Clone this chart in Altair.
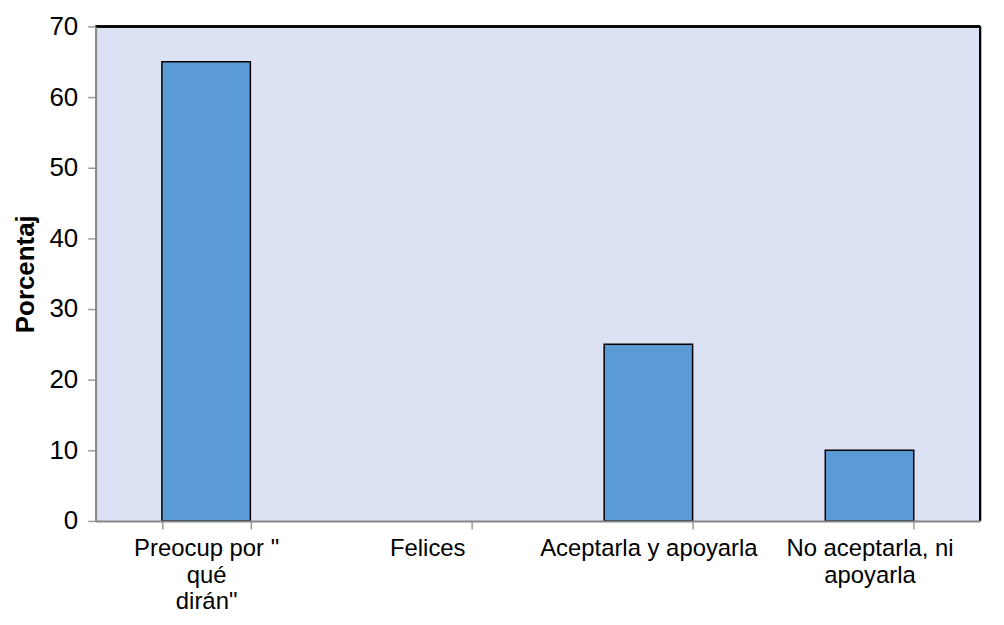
import altair as alt
import pandas as pd
import json

categories = ["Preocup por \" qué dirán\"", "Felices", "Aceptarla y apoyarla", "No aceptarla, ni apoyarla"]
values = [65, 0, 25, 10]
label_lines = {
    "Preocup por \" qué dirán\"": ["Preocup por \"", "qué", "dirán\""],
    "Felices": ["Felices"],
    "Aceptarla y apoyarla": ["Aceptarla y apoyarla"],
    "No aceptarla, ni apoyarla": ["No aceptarla, ni", "apoyarla"],
}
y_ticks = [0, 10, 20, 30, 40, 50, 60, 70]

df = pd.DataFrame({"cat": categories, "val": values})

W, H = 889, 497
FONT = "Liberation Sans"

parts = []
for k, v in label_lines.items():
    parts.append(f"datum.value == {json.dumps(k)} ? {json.dumps(v)}")
label_expr = " : ".join(parts) + " : datum.value"

bars = alt.Chart(df).transform_filter("datum.val > 0").mark_bar(
    color="#5b9bd5", stroke="#000000", strokeWidth=1.5
).encode(
    x=alt.X("cat:N", sort=categories, title=None,
            scale=alt.Scale(domain=categories, paddingInner=0.6, paddingOuter=0.3),
            axis=alt.Axis(labelAngle=0, labelExpr=label_expr, labelFont=FONT,
                          labelFontSize=24, labelColor="#000000", labelPadding=8,
                          labelLineHeight=26.5, labelBaseline="top", labelOverlap=False,
                          labelLimit=0,
                          tickBand="extent", tickColor="#9a9a9a", tickSize=8, tickWidth=1.5,
                          domainColor="#858585", domainWidth=2, zindex=1)),
    y=alt.Y("val:Q", title="Porcentaj",
            scale=alt.Scale(domain=[0, 70], nice=False),
            axis=alt.Axis(values=y_ticks, grid=False,
                          labelFont=FONT, labelFontSize=26, labelColor="#000000",
                          labelPadding=10, tickColor="#9a9a9a", tickSize=8, tickWidth=1.5,
                          domainColor="#858585", domainWidth=2, zindex=1,
                          titleFont=FONT, titleFontSize=26, titleFontWeight="bold",
                          titleColor="#000000", titlePadding=10)),
)

top_border = alt.Chart(df).mark_rule(color="#000000", strokeWidth=2).encode(
    y=alt.datum(70), x=alt.value(0), x2=alt.value(W)
)
right_border = alt.Chart(df).mark_rule(color="#000000", strokeWidth=2).encode(
    x=alt.value(W), y=alt.value(0), y2=alt.value(H)
)

chart = alt.layer(bars, top_border, right_border).properties(
    width=W, height=H,
    autosize=alt.AutoSizeParams(type="none"),
    padding={"left": 88, "top": 17, "right": 16, "bottom": 100},
).configure_view(
    fill="#dce1f3", stroke=None
)

chart.save("out.html", embed_options={"renderer": "svg", "actions": False})
